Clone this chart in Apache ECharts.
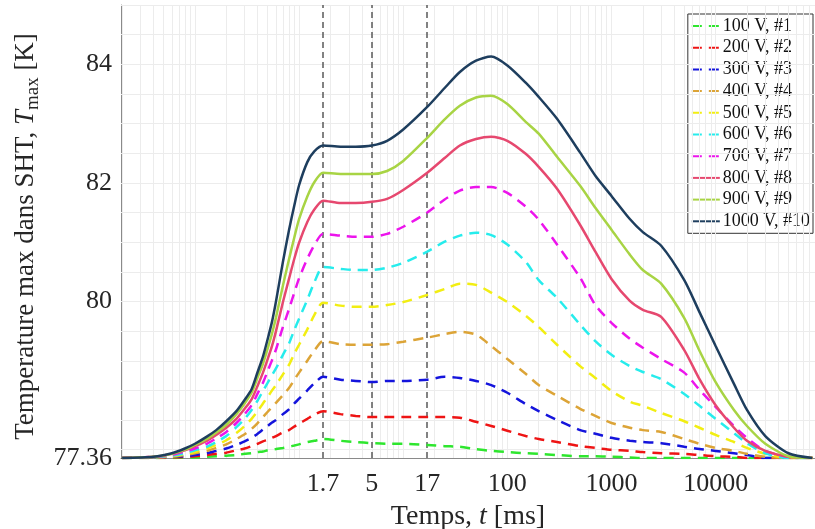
<!DOCTYPE html>
<html><head><meta charset="utf-8">
<script src="https://cdn.jsdelivr.net/npm/echarts@6/dist/echarts.min.js"></script>
<style>html,body{margin:0;padding:0;background:#fff}#c{width:815px;height:529px}</style>
</head><body><div id="c"></div>
<script>
// time samples [ms]
const times = [0.02, 0.04, 0.06, 0.08, 0.1, 0.13, 0.16, 0.2, 0.25, 0.3, 0.35, 0.4, 0.45, 0.5, 0.55, 0.6, 0.7, 0.8, 0.9, 1.0, 1.2, 1.4, 1.7, 2.5, 3.5, 5, 7, 10, 17, 25, 35, 50, 70, 100, 150, 200, 300, 500, 700, 1000, 1500, 2000, 3000, 5000, 7000, 10000, 15000, 20000, 30000, 50000, 85000];

const seriesNames = ['100 V, #1','200 V, #2','300 V, #3','400 V, #4','500 V, #5','600 V, #6','700 V, #7','800 V, #8','900 V, #9','1000 V, #10'];

const v100 = [77.36, 77.36, 77.36, 77.37, 77.37, 77.38, 77.39, 77.40, 77.41, 77.43, 77.44, 77.46, 77.47, 77.49, 77.50, 77.51, 77.53, 77.55, 77.57, 77.59, 77.63, 77.65, 77.68,
  77.65, 77.63, 77.61, 77.60, 77.60, 77.58, 77.56, 77.55, 77.51, 77.48, 77.46, 77.44, 77.43, 77.41, 77.39, 77.39, 77.38, 77.37, 77.36, 77.36, 77.36, 77.36, 77.36, 77.36, 77.36, 77.36, 77.36, 77.36];
const v200 = [77.36, 77.36, 77.37, 77.38, 77.39, 77.41, 77.43, 77.45, 77.49, 77.52, 77.56, 77.60, 77.64, 77.67, 77.70, 77.73, 77.79, 77.83, 77.89, 77.94, 78.02, 78.09, 78.15,
  78.10, 78.07, 78.05, 78.05, 78.05, 78.05, 78.05, 78.04, 77.97, 77.90, 77.82, 77.73, 77.68, 77.63, 77.56, 77.53, 77.50, 77.48, 77.46, 77.44, 77.43, 77.41, 77.39, 77.38, 77.36, 77.36, 77.36, 77.36];
const v300 = [77.36, 77.37, 77.38, 77.39, 77.41, 77.44, 77.48, 77.52, 77.58, 77.64, 77.70, 77.77, 77.84, 77.90, 77.96, 78.00, 78.10, 78.18, 78.28, 78.36, 78.50, 78.62, 78.73,
  78.68, 78.66, 78.64, 78.66, 78.66, 78.68, 78.73, 78.71, 78.66, 78.59, 78.46, 78.27, 78.15, 78.00, 77.83, 77.77, 77.70, 77.65, 77.63, 77.61, 77.55, 77.51, 77.48, 77.44, 77.41, 77.36, 77.36, 77.36];
const v400 = [77.36, 77.37, 77.38, 77.41, 77.44, 77.48, 77.53, 77.59, 77.68, 77.76, 77.85, 77.95, 78.05, 78.14, 78.22, 78.29, 78.42, 78.54, 78.68, 78.80, 79.00, 79.17, 79.33,
  79.28, 79.27, 79.27, 79.28, 79.32, 79.39, 79.45, 79.49, 79.44, 79.25, 79.03, 78.78, 78.59, 78.41, 78.19, 78.07, 77.95, 77.87, 77.83, 77.80, 77.68, 77.60, 77.53, 77.48, 77.43, 77.38, 77.36, 77.36];
const v500 = [77.36, 77.37, 77.39, 77.43, 77.46, 77.52, 77.58, 77.66, 77.78, 77.90, 78.02, 78.15, 78.28, 78.39, 78.50, 78.59, 78.77, 78.93, 79.12, 79.27, 79.53, 79.77, 79.98,
  79.93, 79.91, 79.91, 79.94, 79.99, 80.11, 80.21, 80.30, 80.28, 80.15, 79.99, 79.76, 79.57, 79.27, 78.91, 78.71, 78.49, 78.31, 78.24, 78.12, 77.98, 77.87, 77.75, 77.63, 77.53, 77.43, 77.36, 77.36];
const v600 = [77.36, 77.37, 77.40, 77.44, 77.49, 77.55, 77.63, 77.73, 77.88, 78.02, 78.17, 78.33, 78.49, 78.63, 78.76, 78.87, 79.10, 79.29, 79.52, 79.71, 80.03, 80.32, 80.58,
  80.55, 80.53, 80.53, 80.57, 80.65, 80.84, 81.01, 81.11, 81.16, 81.12, 80.96, 80.67, 80.36, 80.06, 79.61, 79.33, 79.10, 78.91, 78.81, 78.69, 78.44, 78.24, 78.02, 77.78, 77.61, 77.44, 77.36, 77.36];
const v700 = [77.36, 77.38, 77.41, 77.47, 77.52, 77.60, 77.69, 77.80, 77.95, 78.10, 78.25, 78.45, 78.63, 78.83, 79.01, 79.19, 79.57, 79.87, 80.15, 80.39, 80.72, 80.95, 81.14,
  81.11, 81.09, 81.09, 81.14, 81.26, 81.50, 81.72, 81.87, 81.93, 81.93, 81.83, 81.60, 81.38, 80.96, 80.40, 79.94, 79.64, 79.37, 79.22, 79.03, 78.80, 78.51, 78.22, 77.90, 77.70, 77.48, 77.38, 77.36];
const v800 = [77.36, 77.38, 77.43, 77.49, 77.56, 77.65, 77.75, 77.87, 78.02, 78.19, 78.35, 78.58, 78.80, 79.03, 79.25, 79.50, 79.99, 80.38, 80.72, 80.99, 81.34, 81.55, 81.70,
  81.66, 81.66, 81.68, 81.73, 81.88, 82.17, 82.42, 82.63, 82.74, 82.78, 82.71, 82.49, 82.27, 81.90, 81.29, 80.84, 80.38, 80.01, 79.86, 79.74, 79.18, 78.69, 78.25, 77.87, 77.65, 77.48, 77.38, 77.36];
const v900 = [77.36, 77.38, 77.43, 77.50, 77.58, 77.68, 77.79, 77.92, 78.10, 78.28, 78.46, 78.72, 78.95, 79.21, 79.46, 79.73, 80.27, 80.71, 81.08, 81.39, 81.77, 82.01, 82.17,
  82.15, 82.15, 82.15, 82.20, 82.37, 82.76, 83.07, 83.30, 83.44, 83.47, 83.33, 83.03, 82.83, 82.44, 81.95, 81.58, 81.21, 80.79, 80.53, 80.30, 79.72, 79.17, 78.64, 78.17, 77.90, 77.60, 77.39, 77.36];
const v1000 = [77.36, 77.38, 77.44, 77.52, 77.60, 77.72, 77.83, 77.98, 78.15, 78.34, 78.52, 78.81, 79.07, 79.37, 79.66, 80.00, 80.67, 81.20, 81.62, 81.96, 82.35, 82.53, 82.63,
  82.61, 82.61, 82.63, 82.71, 82.90, 83.28, 83.60, 83.87, 84.06, 84.13, 83.98, 83.69, 83.45, 83.08, 82.51, 82.12, 81.78, 81.39, 81.17, 80.94, 80.36, 79.82, 79.25, 78.61, 78.17, 77.73, 77.44, 77.36];

const xTickLabels = [1.7, 5, 17, 100, 1000, 10000];
const yTickLabels = [77.36, 80, 82, 84];
const markerTimes = [1.7, 5, 17];

const allValues = [v100, v200, v300, v400, v500, v600, v700, v800, v900, v1000];
const colors = ['#2ee62e','#ee1414','#1414dc','#dca437','#f2ee12','#26ecec','#ec14ec','#e6486f','#a8d444','#1e3e5e'];
const dashedFlags = [true,true,true,true,true,true,true,false,false,false];

const X_MIN = 0.0195, X_MAX = 90000, Y_MIN = 77.36, Y_MAX = 85;
const SERIF = '"Liberation Serif","DejaVu Serif",serif';

// grid line positions
const gridX = [];
for (let n = -2; n <= 4; n++) for (let k = 1; k <= 9; k++) {
  const v = +(k * Math.pow(10, n)).toPrecision(6);
  if (v > X_MIN && v < X_MAX) gridX.push(v);
}
const gridY = [];
for (let v = 77.5; v <= 85.001; v += 0.5) gridY.push(+v.toFixed(2));

const series = allValues.map((vals, i) => ({
  name: seriesNames[i],
  type: 'line',
  data: times.map((t, j) => [t, vals[j]]),
  symbol: 'none',
  smooth: 0.25,
  z: 5 + i,
  itemStyle: { color: colors[i] },
  lineStyle: { color: colors[i], width: 2.5, type: dashedFlags[i] ? [10, 7] : 'solid' }
}));

series.push({
  type: 'line', data: [], z: 1, silent: true,
  markLine: {
    silent: true, symbol: ['none','none'], animation: false,
    label: { show: false },
    lineStyle: { color: '#ececec', width: 1, type: 'solid' },
    data: gridX.map(v => ({ xAxis: v })).concat(gridY.map(v => ({ yAxis: v })))
  }
});
series.push({
  type: 'line', data: [], z: 3, silent: true,
  markLine: {
    silent: true, symbol: ['none','none'], animation: false,
    label: { show: false },
    lineStyle: { color: '#5a5a5a', width: 1.5, type: [6, 4] },
    data: markerTimes.map(v => ({ xAxis: v }))
  }
});

const chart = echarts.init(document.getElementById('c'), null, { renderer: 'canvas' });
chart.setOption({
  animation: false,
  backgroundColor: '#ffffff',
  grid: { left: 121, right: 0, top: 5, bottom: 71, outerBoundsMode: 'none' },
  xAxis: {
    type: 'log', logBase: 10, min: X_MIN, max: X_MAX,
    axisLine: { show: true, onZero: false, lineStyle: { color: '#8a8a8a', width: 1 } },
    axisTick: { show: true, inside: true, length: 4, customValues: gridX, lineStyle: { color: '#555' } },
    axisLabel: { customValues: xTickLabels, fontFamily: SERIF, fontSize: 26, color: '#262626', margin: 13,
      formatter: v => String(+(+v).toPrecision(6)) },
    splitLine: { show: false }, minorTick: { show: false }, minorSplitLine: { show: false },
    name: '{r|Temps, }{i|t}{r| [ms]}', nameLocation: 'middle', nameGap: 45,
    nameTextStyle: { fontFamily: SERIF, fontSize: 28, color: '#262626',
      rich: { r: { fontFamily: SERIF, fontSize: 28, color: '#262626' }, i: { fontFamily: SERIF, fontSize: 28, fontStyle: 'italic', color: '#262626' } } }
  },
  yAxis: {
    type: 'value', min: Y_MIN, max: Y_MAX,
    axisLine: { show: true, lineStyle: { color: '#8a8a8a', width: 1 } },
    axisTick: { show: true, inside: true, length: 5, customValues: yTickLabels, lineStyle: { color: '#555' } },
    axisLabel: { customValues: yTickLabels, fontFamily: SERIF, fontSize: 26, color: '#262626', margin: 9 },
    splitLine: { show: false },
    name: '{r|Temperature max dans SHT, }{i|T}{s|max}{r| [K]}', nameLocation: 'middle', nameRotate: 90, nameGap: 76,
    nameTextStyle: { fontFamily: SERIF, fontSize: 27, color: '#262626', padding: [0, 10, 0, 0],
      rich: {
        r: { fontFamily: SERIF, fontSize: 27, color: '#262626' },
        i: { fontFamily: SERIF, fontSize: 27, fontStyle: 'italic', color: '#262626' },
        s: { fontFamily: SERIF, fontSize: 19, color: '#262626', padding: [14, 0, 0, 0] }
      } }
  },
  legend: {
    show: true, orient: 'vertical', right: 2, top: 14,
    data: seriesNames,
    itemWidth: 28, itemHeight: 14, itemGap: 3.7,
    padding: [3, 3, 3, 3],
    itemStyle: { opacity: 0, borderWidth: 0 },
    backgroundColor: '#ffffff', borderColor: '#333', borderWidth: 1, borderRadius: 0,
    textStyle: { fontFamily: SERIF, fontSize: 18, lineHeight: 18, color: '#111', padding: [0, 0, 0, -2] }
  },
  series: series
});
</script></body></html>
